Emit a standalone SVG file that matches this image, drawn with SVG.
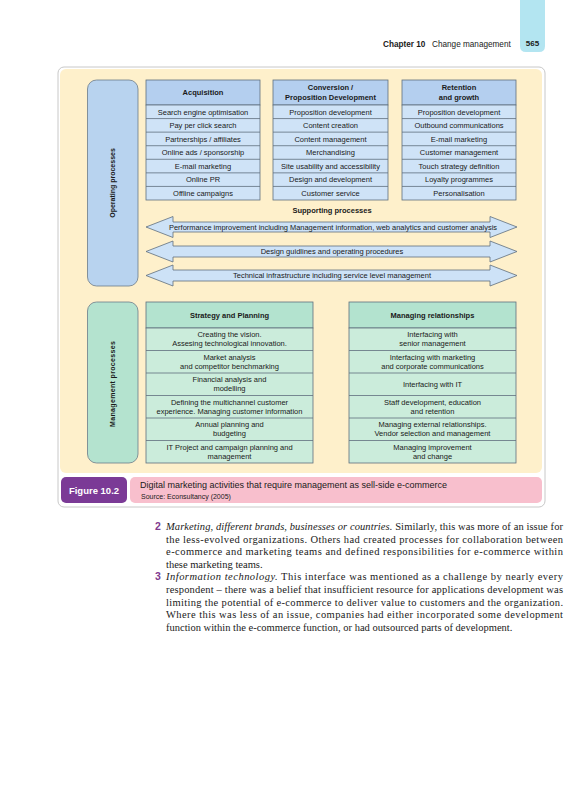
<svg xmlns="http://www.w3.org/2000/svg" width="588" height="800" viewBox="0 0 588 800">
<style>
.sans{font-family:"Liberation Sans",Arial,sans-serif;fill:#1a1a1a}
.cell{font-size:7.5px;text-anchor:middle}
.hdr{font-size:7.5px;font-weight:bold;text-anchor:middle}
.bh{fill:#b4cfef;stroke:#5f6f7e;stroke-width:0.8}
.br{fill:#cfe3f7;stroke:#5f6f7e;stroke-width:0.8}
.gh{fill:#b3e3cf;stroke:#5f6f7e;stroke-width:0.8}
.gr{fill:#cbecdb;stroke:#5f6f7e;stroke-width:0.8}
.arr{fill:#cde2f7;stroke:#5f6f7e;stroke-width:0.8}
.body{font-family:"Liberation Serif","Times New Roman",serif;font-size:10.5px;fill:#1a1a1a}
.num{font-family:"Liberation Sans",Arial,sans-serif;font-size:10.5px;font-weight:bold;fill:#7e3a8e}
</style>
<rect width="588" height="800" fill="#ffffff"/>
<!-- page header -->
<g id="page-header">
<path d="M520 0 H545 V46 Q545 52 539 52 H526 Q520 52 520 46 Z" fill="#b3e5f1"/>
<text x="532.5" y="46" class="sans" font-size="8" font-weight="bold" text-anchor="middle">565</text>
<text x="383" y="46.5" class="sans" font-size="8.2"><tspan font-weight="bold">Chapter 10</tspan><tspan x="432">Change management</tspan></text>
</g>
<!-- frame -->
<rect x="58" y="67" width="487" height="440" rx="6" fill="#ffffff" stroke="#c8c8c8" stroke-width="1"/>
<rect x="60" y="69" width="482" height="404" rx="6" fill="#fef0cb"/>
<!-- operating processes -->
<g id="operating-processes">
<rect x="87.5" y="80" width="50.5" height="206" rx="9" fill="#b8d3ef" stroke="#6b7b8a" stroke-width="0.8"/>
<text class="sans" font-size="7" font-weight="bold" text-anchor="middle" transform="translate(115,183) rotate(-90)">Operating processes</text>
</g>
<g id="acquisition">
<rect class="bh" x="146" y="80" width="114" height="25"/>
<rect class="br" x="146" y="105" width="114" height="95"/>
<path d="M146 118.57H260M146 132.14H260M146 145.71H260M146 159.29H260M146 172.86H260M146 186.43H260" stroke="#5f6f7e" stroke-width="0.8"/>
<text class="sans hdr" x="203" y="95">Acquisition</text>
<g class="sans cell">
<text x="203" y="114.5">Search engine optimisation</text>
<text x="203" y="128.1">Pay per click search</text>
<text x="203" y="141.6">Partnerships / affiliates</text>
<text x="203" y="155.2">Online ads / sponsorship</text>
<text x="203" y="168.8">E-mail marketing</text>
<text x="203" y="182.3">Online PR</text>
<text x="203" y="195.9">Offline campaigns</text>
</g>
</g>
<g id="conversion">
<rect class="bh" x="273" y="80" width="115" height="25"/>
<rect class="br" x="273" y="105" width="115" height="95"/>
<path d="M273 118.57H388M273 132.14H388M273 145.71H388M273 159.29H388M273 172.86H388M273 186.43H388" stroke="#5f6f7e" stroke-width="0.8"/>
<text class="sans hdr" x="330.5" y="90.3">Conversion /</text>
<text class="sans hdr" x="330.5" y="100">Proposition Development</text>
<g class="sans cell">
<text x="330.5" y="114.5">Proposition development</text>
<text x="330.5" y="128.1">Content creation</text>
<text x="330.5" y="141.6">Content management</text>
<text x="330.5" y="155.2">Merchandising</text>
<text x="330.5" y="168.8">Site usability and accessibility</text>
<text x="330.5" y="182.3">Design and development</text>
<text x="330.5" y="195.9">Customer service</text>
</g>
</g>
<g id="retention">
<rect class="bh" x="402" y="80" width="114" height="25"/>
<rect class="br" x="402" y="105" width="114" height="95"/>
<path d="M402 118.57H516M402 132.14H516M402 145.71H516M402 159.29H516M402 172.86H516M402 186.43H516" stroke="#5f6f7e" stroke-width="0.8"/>
<text class="sans hdr" x="459" y="90.3">Retention</text>
<text class="sans hdr" x="459" y="100">and growth</text>
<g class="sans cell">
<text x="459" y="114.5">Proposition development</text>
<text x="459" y="128.1">Outbound communications</text>
<text x="459" y="141.6">E-mail marketing</text>
<text x="459" y="155.2">Customer management</text>
<text x="459" y="168.8">Touch strategy definition</text>
<text x="459" y="182.3">Loyalty programmes</text>
<text x="459" y="195.9">Personalisation</text>
</g>
</g>
<g id="supporting-processes">
<text class="sans hdr" x="332" y="212.5">Supporting processes</text>
</g>
<g id="connectors">
<g id="arrow-performance">
<path class="arr" d="M146 227 L173 216.5 V222 H490 V216.5 L517 227 L490 237.5 V232 H173 V237.5 Z"/>
<text class="sans cell" x="333" y="229.6" textLength="328" lengthAdjust="spacingAndGlyphs">Performance improvement including Management information, web analytics and customer analysis</text>
</g>
<g id="arrow-design">
<path class="arr" d="M146 251.5 L173 241 V246 H490 V241 L517 251.5 L490 262 V257 H173 V262 Z"/>
<text class="sans cell" x="332" y="254.1">Design guidlines and operating procedures</text>
</g>
<g id="arrow-technical">
<path class="arr" d="M146 275.5 L173 265 V270 H490 V265 L517 275.5 L490 286 V281 H173 V286 Z"/>
<text class="sans cell" x="332" y="278.1">Technical infrastructure including service level management</text>
</g>
</g>
<!-- management processes -->
<g id="management-processes">
<rect x="87.5" y="302" width="50.5" height="161" rx="9" fill="#b4e3cf" stroke="#6b7b8a" stroke-width="0.8"/>
<text class="sans" font-size="7" font-weight="bold" text-anchor="middle" textLength="86" transform="translate(115,384) rotate(-90)">Management processes</text>
</g>
<g id="strategy-planning">
<rect class="gh" x="146" y="302" width="167" height="26"/>
<rect class="gr" x="146" y="328" width="167" height="135"/>
<path d="M146 350.5H313M146 373H313M146 395.5H313M146 418H313M146 440.5H313" stroke="#5f6f7e" stroke-width="0.8"/>
<text class="sans hdr" x="229.5" y="317.5">Strategy and Planning</text>
<g class="sans cell">
<text x="229.5" y="337">Creating the vision.</text>
<text x="229.5" y="346">Assesing technological innovation.</text>
<text x="229.5" y="359.5">Market analysis</text>
<text x="229.5" y="368.5">and competitor benchmarking</text>
<text x="229.5" y="382">Financial analysis and</text>
<text x="229.5" y="391">modelling</text>
<text x="229.5" y="404.5">Defining the multichannel customer</text>
<text x="229.5" y="413.5">experience. Managing customer information</text>
<text x="229.5" y="427">Annual planning and</text>
<text x="229.5" y="436">budgeting</text>
<text x="229.5" y="449.5">IT Project and campaign planning and</text>
<text x="229.5" y="458.5">management</text>
</g>
</g>
<g id="managing-relationships">
<rect class="gh" x="349" y="302" width="167" height="26"/>
<rect class="gr" x="349" y="328" width="167" height="135"/>
<path d="M349 350.5H516M349 373H516M349 395.5H516M349 418H516M349 440.5H516" stroke="#5f6f7e" stroke-width="0.8"/>
<text class="sans hdr" x="432.5" y="317.5">Managing relationships</text>
<g class="sans cell">
<text x="432.5" y="337">Interfacing with</text>
<text x="432.5" y="346">senior management</text>
<text x="432.5" y="359.5">Interfacing with marketing</text>
<text x="432.5" y="368.5">and corporate communications</text>
<text x="432.5" y="386.9">Interfacing with IT</text>
<text x="432.5" y="404.5">Staff development, education</text>
<text x="432.5" y="413.5">and retention</text>
<text x="432.5" y="427">Managing external relationships.</text>
<text x="432.5" y="436">Vendor selection and management</text>
<text x="432.5" y="449.5">Managing improvement</text>
<text x="432.5" y="458.5">and change</text>
</g>
</g>
<!-- caption -->
<g id="figure-caption">
<rect x="61" y="477" width="66" height="26" rx="5" fill="#7b3a96"/>
<text x="94" y="494" font-family="Liberation Sans,Arial,sans-serif" font-size="9.5" font-weight="bold" fill="#ffffff" text-anchor="middle">Figure 10.2</text>
<rect x="130" y="477" width="412" height="26" rx="5" fill="#f8bfcd"/>
<text class="sans" x="140" y="488" font-size="9">Digital marketing activities that require management as sell-side e-commerce</text>
<text class="sans" x="141" y="498.5" font-size="7">Source: Econsultancy (2005)</text>
</g>
<!-- body text -->
<g id="body-text">
<text class="num" x="155" y="530">2</text>
<text class="body" x="166" y="530" textLength="397" lengthAdjust="spacing"><tspan font-style="italic">Marketing, different brands, businesses or countries.</tspan> Similarly, this was more of an issue for</text>
<text class="body" x="166" y="542.6" textLength="397" lengthAdjust="spacing">the less-evolved organizations. Others had created processes for collaboration between</text>
<text class="body" x="166" y="555.2" textLength="397" lengthAdjust="spacing">e-commerce and marketing teams and defined responsibilities for e-commerce within</text>
<text class="body" x="166" y="567.8">these marketing teams.</text>
<text class="num" x="155" y="580.4">3</text>
<text class="body" x="166" y="580.4" textLength="397" lengthAdjust="spacing"><tspan font-style="italic">Information technology.</tspan> This interface was mentioned as a challenge by nearly every</text>
<text class="body" x="166" y="593" textLength="397" lengthAdjust="spacing">respondent – there was a belief that insufficient resource for applications development was</text>
<text class="body" x="166" y="605.6" textLength="397" lengthAdjust="spacing">limiting the potential of e-commerce to deliver value to customers and the organization.</text>
<text class="body" x="166" y="618.2" textLength="397" lengthAdjust="spacing">Where this was less of an issue, companies had either incorporated some development</text>
<text class="body" x="166" y="630.8">function within the e-commerce function, or had outsourced parts of development.</text>
</g>
</svg>
